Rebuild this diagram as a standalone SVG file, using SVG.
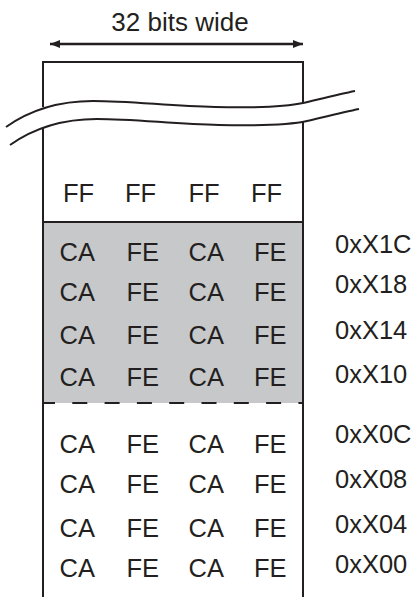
<svg xmlns="http://www.w3.org/2000/svg" width="417" height="597" viewBox="0 0 417 597">
<style>
.t{font-family:"Liberation Sans",Arial,sans-serif;font-size:25.5px;fill:#231f20}
.ln{stroke:#231f20;stroke-width:2;fill:none}
</style>
<defs>
<marker id="ah" viewBox="0 0 10 8" refX="10" refY="4" markerWidth="10" markerHeight="8" markerUnits="userSpaceOnUse" orient="auto-start-reverse">
<path d="M0,0 L10,4 L0,8 Z" fill="#231f20"/>
</marker>
</defs>
<rect width="417" height="597" fill="#fff"/>
<g id="title">
<text class="t" x="180" y="31" text-anchor="middle" style="font-size:26px">32 bits wide</text>
<line x1="50" y1="44" x2="303" y2="44" stroke="#231f20" stroke-width="2.5" marker-start="url(#ah)" marker-end="url(#ah)"/>
</g>
<g id="shaded">
<rect x="43" y="222" width="260" height="181" fill="#c7c8ca"/>
</g>
<g id="frame">
<path class="ln" d="M43,107 V62 H303 V103"/>
<path class="ln" d="M43,127 V597 M303,122 V597"/>
<line class="ln" x1="43" y1="222" x2="303" y2="222"/>
<line class="ln" x1="43" y1="403" x2="303" y2="403" stroke-width="2.5" stroke-dasharray="15 17.3" stroke-dashoffset="3"/>
<path class="ln" d="M6,127 C30,110 60,101 93,101 C130,101 170,106 215,107 C260,108 285,107 303,103 C320,99 340,94 355,91"/>
<path class="ln" d="M10,145 C34,128 64,119 97,119 C134,119 174,124 219,125 C264,126 289,125 307,121 C324,117 344,112 359,109"/>
</g>
<g id="row-ff" class="t">
<text x="63" y="202">FF</text><text x="125" y="202">FF</text><text x="188.5" y="202">FF</text><text x="251" y="202">FF</text>
</g>
<g id="row-1c" class="t">
<text x="59.5" y="261">CA</text><text x="126.5" y="261">FE</text><text x="188.5" y="261">CA</text><text x="254" y="261">FE</text><text x="335" y="253">0xX1C</text>
</g>
<g id="row-18" class="t">
<text x="59.5" y="301">CA</text><text x="126.5" y="301">FE</text><text x="188.5" y="301">CA</text><text x="254" y="301">FE</text><text x="335" y="293">0xX18</text>
</g>
<g id="row-14" class="t">
<text x="59.5" y="344">CA</text><text x="126.5" y="344">FE</text><text x="188.5" y="344">CA</text><text x="254" y="344">FE</text><text x="335" y="339">0xX14</text>
</g>
<g id="row-10" class="t">
<text x="59.5" y="386">CA</text><text x="126.5" y="386">FE</text><text x="188.5" y="386">CA</text><text x="254" y="386">FE</text><text x="335" y="383">0xX10</text>
</g>
<g id="row-0c" class="t">
<text x="59.5" y="453">CA</text><text x="126.5" y="453">FE</text><text x="188.5" y="453">CA</text><text x="254" y="453">FE</text><text x="335" y="443">0xX0C</text>
</g>
<g id="row-08" class="t">
<text x="59.5" y="493">CA</text><text x="126.5" y="493">FE</text><text x="188.5" y="493">CA</text><text x="254" y="493">FE</text><text x="335" y="488">0xX08</text>
</g>
<g id="row-04" class="t">
<text x="59.5" y="537">CA</text><text x="126.5" y="537">FE</text><text x="188.5" y="537">CA</text><text x="254" y="537">FE</text><text x="335" y="533">0xX04</text>
</g>
<g id="row-00" class="t">
<text x="59.5" y="577">CA</text><text x="126.5" y="577">FE</text><text x="188.5" y="577">CA</text><text x="254" y="577">FE</text><text x="335" y="573">0xX00</text>
</g>
</svg>
